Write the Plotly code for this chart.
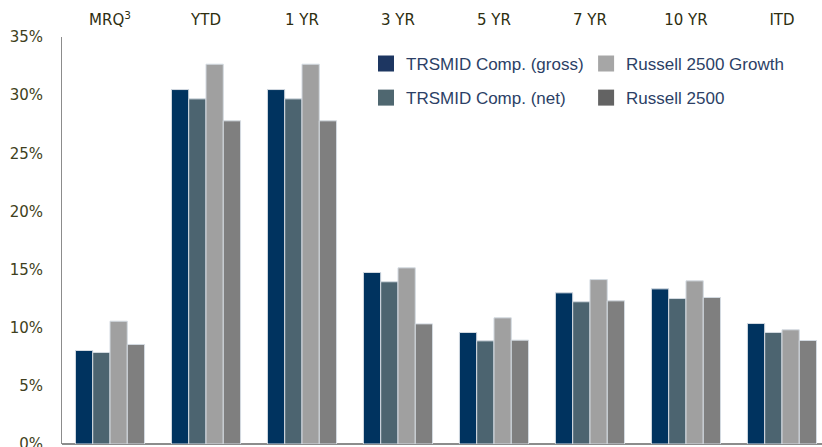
import plotly.graph_objects as go

categories = ["MRQ<sup>3</sup>", "YTD", "1 YR", "3 YR", "5 YR", "7 YR", "10 YR", "ITD"]
gross = [8.04, 30.48, 30.48, 14.75, 9.59, 13.00, 13.34, 10.36]
net = [7.87, 29.68, 29.68, 13.95, 8.87, 12.23, 12.51, 9.59]
r2500_growth = [10.56, 32.66, 32.66, 15.15, 10.85, 14.14, 14.03, 9.82]
r2500 = [8.56, 27.79, 27.79, 10.33, 8.93, 12.31, 12.60, 8.90]

series = [
    ("TRSMID Comp. (gross)", gross, "#00335f", "#1d3661", "legend"),
    ("TRSMID Comp. (net)", net, "#4c6470", "#4f6770", "legend"),
    ("Russell 2500 Growth", r2500_growth, "#a0a0a0", "#a6a6a6", "legend2"),
    ("Russell 2500", r2500, "#7f7f7f", "#636363", "legend2"),
]

fig = go.Figure()
for name, vals, col, lcol, leg in series:
    fig.add_trace(go.Bar(
        x=categories, y=vals, name=name, showlegend=False,
        marker=dict(color=col, line=dict(color="#d4dbe2", width=1)),
    ))
for i, (name, vals, col, lcol, leg) in enumerate(series):
    fig.add_trace(go.Scatter(
        x=[None], y=[None], mode="markers", name=name, legend=leg,
        legendgroup=name,
        marker=dict(symbol="square", size=16, color=lcol),
    ))

legend_font = dict(family="Liberation Sans", size=17, color="#2c3f66")
fig.update_layout(
    width=822, height=447,
    margin=dict(l=62, r=0, t=37, b=3, autoexpand=False),
    plot_bgcolor="white", paper_bgcolor="white",
    barmode="group", bargap=0.28, bargroupgap=0,
    legend=dict(x=0.40, y=0.978, xanchor="left", yanchor="top",
                font=legend_font, tracegroupgap=9, bgcolor="rgba(0,0,0,0)",
                itemclick=False),
    legend2=dict(x=0.6896, y=0.978, xanchor="left", yanchor="top",
                 font=legend_font, tracegroupgap=9, bgcolor="rgba(0,0,0,0)",
                 itemclick=False),
    xaxis=dict(side="top", type="category", range=[-0.5, 7.417],
               automargin=False,
               showline=False, ticks="", showgrid=False,
               ticklabelstandoff=8,
               tickfont=dict(family="DejaVu Sans", size=15, color="#2e2e10")),
    yaxis=dict(range=[0, 35], dtick=5, ticksuffix="%", showgrid=False,
               automargin=False, ticklabeloverflow="allow",
               showline=True, linecolor="#8c8c8c", linewidth=1,
               zeroline=True, zerolinecolor="#8c8c8c", zerolinewidth=2,
               ticks="", ticklabelstandoff=15,
               tickfont=dict(family="DejaVu Sans", size=15, color="#3f3f20")),
)

fig.write_html("out.html", config={"displayModeBar": False},
               post_script="document.body.style.margin='0';document.body.style.overflow='hidden';")
